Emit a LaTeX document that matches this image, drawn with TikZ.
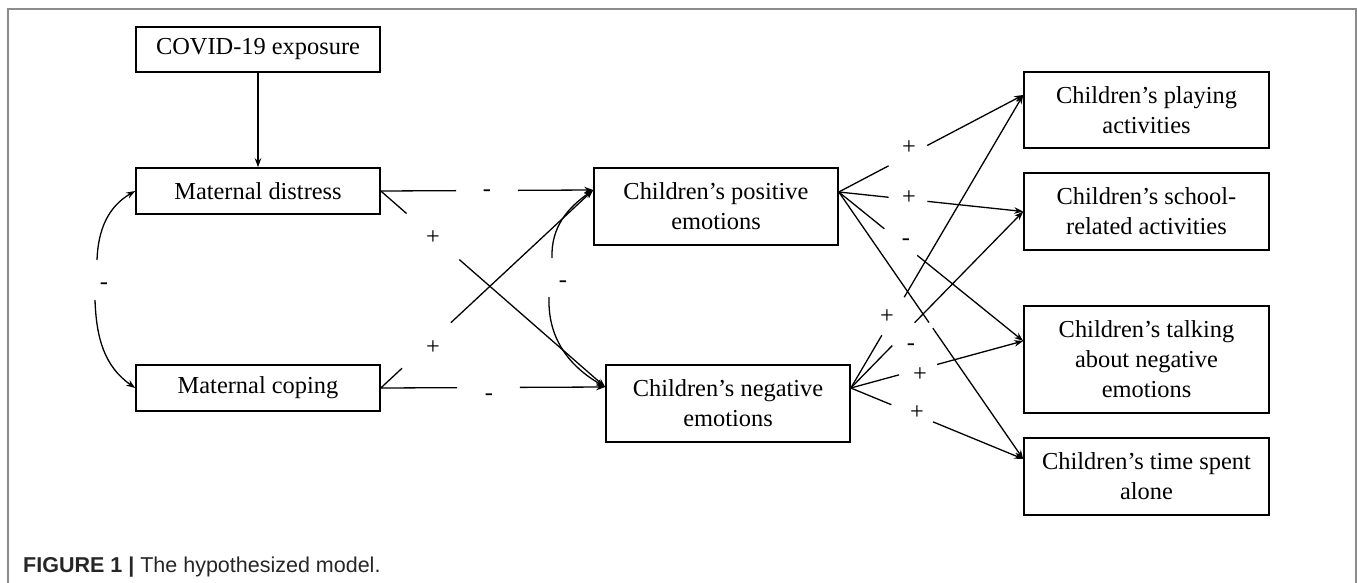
\documentclass[tikz,border=0pt]{standalone}
\usepackage{fontspec}
\setmainfont{Liberation Serif}
\newfontfamily\capfont{Liberation Sans}
\usetikzlibrary{arrows.meta,calc}
\newcommand{\gapped}[4]{%
  \draw[link] (#1) -- ($(#1)!#3!(#2)$);
  \draw[arr] ($(#1)!#4!(#2)$) -- (#2);}
\begin{document}
\begin{tikzpicture}[x=1pt,y=-1pt,
  box/.style={draw,line width=1.6pt,align=center,inner sep=0pt,
    font=\fontsize{24.4}{30}\selectfont,minimum width=244pt},
  link/.style={line width=1.3pt},
  arr/.style={line width=1.3pt,-{Stealth[length=9pt,width=6.5pt]}},
  sign/.style={font=\fontsize{24.4}{30}\selectfont,inner sep=0pt},
  minus/.style={sign,yshift=-2pt},
]
\useasboundingbox (0,0) rectangle (1357,583);
% frame
\draw[black!45,line width=2pt] (7.5,583) -- (7.5,9) -- (1355.5,9) -- (1355.5,583);

% boxes
\node[box,minimum height=45pt] (covid) at (258,49.5) {COVID-19 exposure};
\node[box,minimum height=46pt] (distress) at (258,191) {Maternal distress};
\node[box,minimum height=46pt] (coping) at (258,388) {Maternal coping};
\node[box,minimum height=77pt] (pos) at (716,206.5) {Children’s positive\\emotions};
\node[box,minimum height=77pt] (neg) at (728,403.5) {Children’s negative\\emotions};
\node[box,minimum width=245pt,minimum height=76pt] (play) at (1146.5,110) {Children’s playing\\activities};
\node[box,minimum width=245pt,minimum height=77pt] (school) at (1146.5,211.5) {Children’s school-\\related activities};
\node[box,minimum width=245pt,minimum height=107pt] (talk) at (1146.5,359.5) {Children’s talking\\about negative\\emotions};
\node[box,minimum width=245pt,minimum height=77pt] (alone) at (1146.5,476.5) {Children’s time spent\\alone};

% anchor points
\coordinate (posin) at ([yshift=16.5pt]pos.west);
\coordinate (negin) at ([yshift=16.5pt]neg.west);
\coordinate (posout) at ([yshift=14.5pt]pos.east);
\coordinate (negout) at ([yshift=15.5pt]neg.east);
\coordinate (playin) at ([yshift=15pt]play.west);
\coordinate (schoolin) at (school.west);
\coordinate (talkin) at ([yshift=18.5pt]talk.west);
\coordinate (alonein) at ([yshift=17.5pt]alone.west);

% connectors
\draw[arr] (covid) -- (distress);
\gapped{distress.east}{posin}{0.355}{0.645}
\gapped{distress.east}{negin}{0.115}{0.35}
\gapped{coping.east}{posin}{0.10}{0.33}
\gapped{coping.east}{negin}{0.34}{0.62}

\gapped{posout}{playin}{0.27}{0.48}
\gapped{posout}{schoolin}{0.27}{0.48}
\gapped{posout}{talkin}{0.247}{0.425}
\gapped{posout}{alonein}{0.489}{0.51}
\gapped{negout}{playin}{0.18}{0.31}
\gapped{negout}{schoolin}{0.24}{0.37}
\gapped{negout}{talkin}{0.28}{0.5}
\gapped{negout}{alonein}{0.235}{0.477}

% correlations
\coordinate (ca) at (552,258);
\coordinate (cb) at (549,297);
\draw[arr] (ca) to[out=92,in=215] (posin);
\draw[arr] (cb) to[out=-92,in=150] (negin);
\coordinate (ma) at (97,260);
\coordinate (mb) at (95,300);
\draw[arr] (ma) to[out=88,in=210] (distress.west);
\draw[arr] (mb) to[out=-88,in=145] (coping.west);

% signs
\node[minus] (s1) at (487,191) {-};
\node[sign] (s2) at (433,238) {+};
\node[sign] (s3) at (433,348) {+};
\node[minus] (s4) at (489,395) {-};
\node[minus] (sc) at (563,282) {-};
\node[minus] (sm) at (104,284) {-};
\node[sign] (r1) at (909,148) {+};
\node[sign] (r2) at (909,198) {+};
\node[minus] (r3) at (906,240) {-};
\node[sign] (r4) at (887,317) {+};
\node[minus] (r5) at (911,345) {-};
\node[sign] (r6) at (920,375) {+};
\node[sign] (r7) at (917,413) {+};

% caption
\node[anchor=base west,inner sep=0pt,font=\capfont\fontsize{21.5}{25}\selectfont,text=black!85] (cap) at (23,572) {\textbf{FIGURE 1 |} The hypothesized model.};
\end{tikzpicture}
\end{document}
